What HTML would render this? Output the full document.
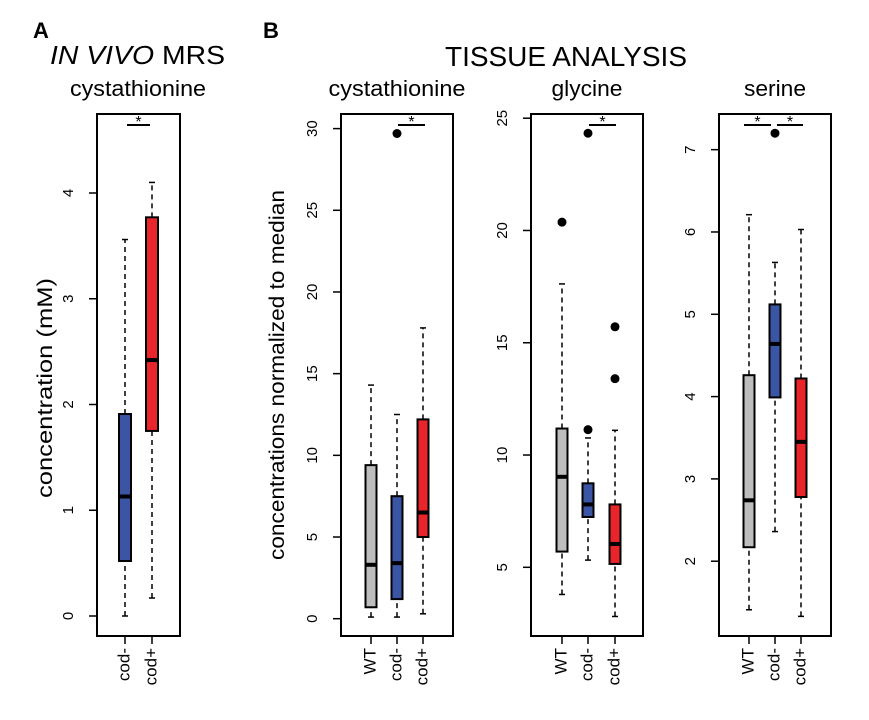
<!DOCTYPE html>
<html><head><meta charset="utf-8"><style>
body{margin:0;background:#fff;}
svg{display:block;font-family:"Liberation Sans",Arial,sans-serif;}
</style></head><body>
<svg id="fig" width="869" height="720" viewBox="0 0 869 720">
<text x="33" y="38" font-size="22" font-weight="bold">A</text>
<text x="263" y="38" font-size="22" font-weight="bold">B</text>
<text x="50" y="64" font-size="26" textLength="175" lengthAdjust="spacingAndGlyphs"><tspan font-style="italic">IN VIVO</tspan> MRS</text>
<text x="445" y="66" font-size="28" textLength="242" lengthAdjust="spacingAndGlyphs">TISSUE ANALYSIS</text>
<text transform="translate(52,388) rotate(-90)" font-size="21" text-anchor="middle" textLength="220" lengthAdjust="spacingAndGlyphs">concentration (mM)</text>
<text transform="translate(284,375) rotate(-90)" font-size="21" text-anchor="middle" textLength="370" lengthAdjust="spacingAndGlyphs">concentrations normalized to median</text>
</svg>
<script>
// data
const panelTitles = ["cystathionine","cystathionine","glycine","serine"];
const groupsA = ["cod-","cod+"];
const groupsB = ["WT","cod-","cod+"];
const statsA = [[0,0.52,1.13,1.91,3.56],[0.17,1.75,2.42,3.77,4.1]];
const statsCys = [[0.1,0.7,3.3,9.4,14.3],[0.1,1.2,3.4,7.5,12.5],[0.3,5.0,6.5,12.2,17.8]];
const statsGly = [[3.79,5.7,9.03,11.18,17.62],[5.32,7.24,7.8,8.74,10.76],[2.81,5.15,6.04,7.8,11.1]];
const statsSer = [[1.41,2.17,2.74,4.26,6.21],[2.36,3.99,4.64,5.12,5.63],[1.33,2.78,3.45,4.22,6.03]];
const outCys = [[],[29.7],[]];
const outGly = [[20.37],[11.13,24.33],[13.4,15.71]];
const outSer = [[],[7.2],[]];
const ticksA = [0,1,2,3,4];
const ticksCys = [0,5,10,15,20,25,30];
const ticksGly = [5,10,15,20,25];
const ticksSer = [2,3,4,5,6,7];
const colorsA = ["#3a55a4","#e8252a"];
const colorsB = ["#bebebe","#3a55a4","#e8252a"];

const NS="http://www.w3.org/2000/svg";
const svg=document.getElementById('fig');
function mk(t,a,p){const e=document.createElementNS(NS,t);for(const k in a)e.setAttribute(k,a[k]);(p||svg).appendChild(e);return e;}
const TOP=114,BOT=636;
function panel(cfg){
  const g=mk('g',{});
  
  
  const y=v=>cfg.y0+(v-cfg.v0)*(cfg.y1-cfg.y0)/(cfg.v1-cfg.v0);
  const t=mk('text',{x:cfg.tx,y:96,'font-size':22,'text-anchor':'middle',textLength:cfg.tl,lengthAdjust:'spacingAndGlyphs'},g);t.textContent=cfg.title;
  
  
  cfg.ticks.forEach(v=>{
    const ln=mk('line',{x1:cfg.l-8,x2:cfg.l,y1:y(v),y2:y(v),stroke:'#000','stroke-width':1.5},g);
    
    
    const tx=mk('text',{transform:`translate(${cfg.l-28},${y(v)}) rotate(-90)`,'font-size':15,'text-anchor':'middle','dominant-baseline':'middle'},g);tx.textContent=v;
    
    
  });
  cfg.groups.forEach((nm,i)=>{
    const x=cfg.xs[i],s=cfg.stats[i],hw=cfg.bw/2;
    const tk=mk('line',{x1:x,x2:x,y1:BOT,y2:BOT+8,stroke:'#000','stroke-width':1.5},g);
    
    
    const lb=mk('text',{transform:`translate(${x},${BOT+12}) rotate(-90)`,'font-size':17,'text-anchor':'end','dominant-baseline':'middle'},g);lb.textContent=nm;
    
    
    [[s[0],s[1]],[s[3],s[4]]].forEach(p=>{
      const w=mk('line',{x1:x,x2:x,y1:y(p[0]),y2:y(p[1]),stroke:'#000','stroke-width':1.5,'stroke-dasharray':'5,4'},g);
      
      
    });
    [s[0],s[4]].forEach(v=>{
      const c=mk('line',{x1:x-3,x2:x+3,y1:y(v),y2:y(v),stroke:'#000','stroke-width':1.5},g);
      
      
    });
    const b=mk('rect',{x:x-hw,y:y(s[3]),width:cfg.bw,height:y(s[1])-y(s[3]),fill:cfg.colors[i],stroke:'#000','stroke-width':2},g);
    
    
    const m=mk('line',{x1:x-hw,x2:x+hw,y1:y(s[2]),y2:y(s[2]),stroke:'#000','stroke-width':4},g);
    
    
    (cfg.out[i]||[]).forEach(v=>{
      const o=mk('circle',{cx:x,cy:y(v),r:4.5,fill:'#000'},g);
      
      
    });
  });
  const fr=mk('rect',{x:cfg.l,y:TOP,width:cfg.r-cfg.l,height:BOT-TOP,fill:'none',stroke:'#000','stroke-width':2},g);
  
  
  cfg.sig.forEach(p=>{
    const sl=mk('line',{x1:p[0],x2:p[1],y1:125,y2:125,stroke:'#000','stroke-width':2},g);
    
    
    const st=mk('text',{x:(p[0]+p[1])/2,y:127,'font-size':16,'text-anchor':'middle'},g);st.textContent='*';
    
    
  });
}
panel({name:'panel-a-cystathionine',title:panelTitles[0],tx:138,tl:136,l:97,r:180,xs:[125,152],bw:12,groups:groupsA,stats:statsA,out:[],colors:colorsA,ticks:ticksA,v0:0,y0:616,v1:4,y1:193,sig:[[127,150]]});
panel({name:'panel-b-cystathionine',title:panelTitles[1],tx:397,tl:137,l:341,r:453,xs:[371,397,423],bw:11,groups:groupsB,stats:statsCys,out:outCys,colors:colorsB,ticks:ticksCys,v0:0,y0:618.7,v1:30,y1:128.6,sig:[[398,425]]});
panel({name:'panel-b-glycine',title:panelTitles[2],tx:587,tl:71,l:531,r:643,xs:[562,588,615],bw:11,groups:groupsB,stats:statsGly,out:outGly,colors:colorsB,ticks:ticksGly,v0:5,y0:567.3,v1:25,y1:118.2,sig:[[589,616]]});
panel({name:'panel-b-serine',title:panelTitles[3],tx:775,tl:62,l:719,r:831,xs:[749,775,801],bw:11,groups:groupsB,stats:statsSer,out:outSer,colors:colorsB,ticks:ticksSer,v0:2,y0:114+(1203-37)/1361*522,v1:7,y1:114+(130-37)/1361*522,sig:[[744,771],[777,803]]});
</script>
</body></html>
